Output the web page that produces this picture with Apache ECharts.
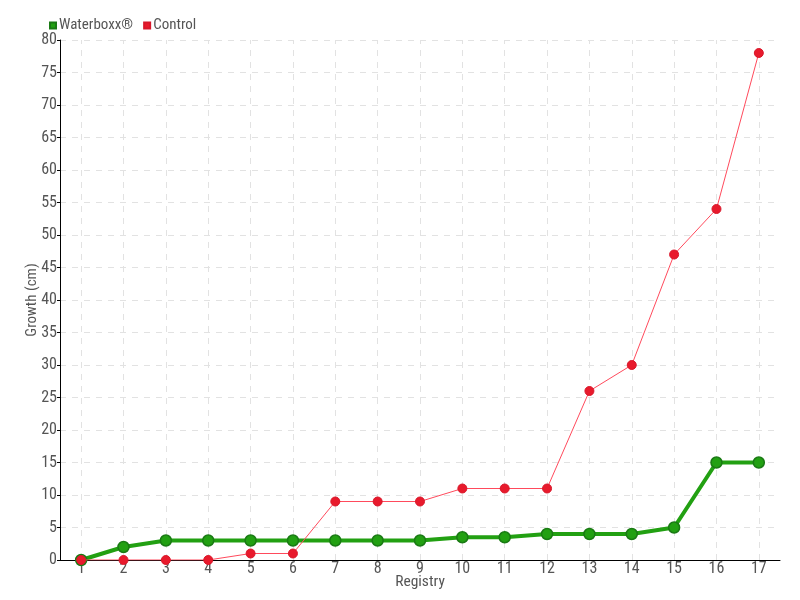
<!DOCTYPE html>
<html><head><meta charset="utf-8">
<script src="https://cdn.jsdelivr.net/npm/echarts@6/dist/echarts.min.js"></script>
<style>html,body{margin:0;padding:0;background:#fff}#c{width:800px;height:600px}</style>
</head><body><div id="c"></div>
<script>
var categories = ['1','2','3','4','5','6','7','8','9','10','11','12','13','14','15','16','17'];
var waterboxx = [0, 2, 3, 3, 3, 3, 3, 3, 3, 3.5, 3.5, 4, 4, 4, 5, 15, 15];
var control = [0, 0, 0, 0, 1, 1, 9, 9, 9, 11, 11, 11, 26, 30, 47, 54, 78];
var seriesNames = ['Waterboxx®', 'Control'];

var font = '"Roboto Condensed", Roboto, sans-serif';
var txt = '#555';
var chart = echarts.init(document.getElementById('c'));
chart.setOption({
  animation: false,
  textStyle: {fontFamily: font},
  legend: {
    left: 44, top: 13, itemWidth: 6, itemHeight: 6, itemGap: 10,
    icon: 'rect',
    textStyle: {fontFamily: font, fontSize: 15, color: txt, padding: [0,0,0,-2]},
    data: seriesNames
  },
  grid: {left: 60, right: 20, top: 40, bottom: 40},
  xAxis: {
    type: 'category', data: categories, boundaryGap: true,
    name: 'Registry', nameLocation: 'middle', nameGap: 14, nameMoveOverlap: false,
    nameTextStyle: {fontFamily: font, fontSize: 15.5, color: txt},
    axisLine: {lineStyle: {color: '#000', width: 1}},
    axisTick: {alignWithLabel: true, length: 4, lineStyle: {color: '#000'}},
    axisLabel: {fontFamily: font, fontSize: 16, color: txt, margin: 1},
    splitLine: {show: false}
  },
  yAxis: {
    type: 'value', min: 0, max: 80, interval: 5,
    name: 'Growth (cm)', nameLocation: 'middle', nameGap: 20, nameRotate: 90, nameMoveOverlap: false,
    nameTextStyle: {fontFamily: font, fontSize: 15, color: txt},
    axisLine: {show: true, lineStyle: {color: '#000', width: 1}},
    axisTick: {show: true, length: 3, lineStyle: {color: '#000'}},
    axisLabel: {fontFamily: font, fontSize: 16, color: txt, margin: 3},
    splitLine: {show: true, lineStyle: {type: [6,6], color: '#e2e2e2'}}
  },
  series: [
    {
      name: 'grid-v', type: 'line', data: [], z: 0, silent: true,
      markLine: {
        silent: true, symbol: 'none', animation: false, z: 0,
        label: {show: false},
        lineStyle: {type: [6,6], color: '#e2e2e2', width: 1},
        emphasis: {disabled: true},
        data: categories.map(function (c) { return {xAxis: c}; })
      }
    },
    {
      name: seriesNames[0], type: 'line', data: waterboxx,
      symbol: 'circle', symbolSize: 11, z: 2,
      lineStyle: {color: '#22a012', width: 4},
      itemStyle: {color: '#22a012', borderColor: '#1a7a14', borderWidth: 1.5}
    },
    {
      name: seriesNames[1], type: 'line', data: control,
      symbol: 'circle', symbolSize: 9, z: 3,
      lineStyle: {color: '#ff4a5c', width: 1},
      itemStyle: {color: '#e81a2c', borderColor: '#d8172a', borderWidth: 1}
    }
  ]
});
</script></body></html>
